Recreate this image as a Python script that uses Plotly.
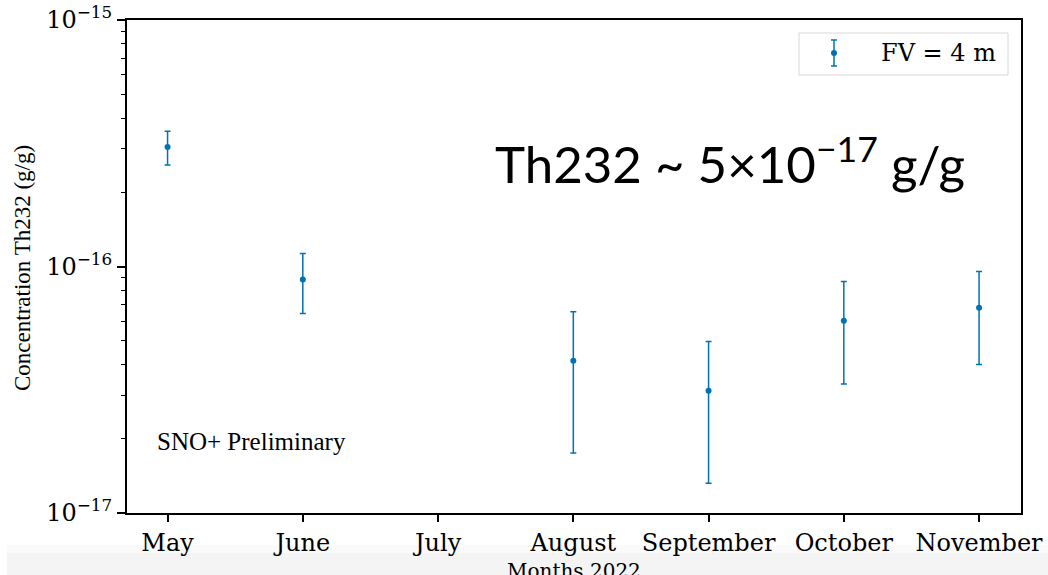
import plotly.graph_objects as go

months = ["May", "June", "July", "August", "September", "October", "November"]
data_months = ["May", "June", "August", "September", "October", "November"]
conc = [3.05e-16, 8.85e-17, 4.15e-17, 3.13e-17, 6.03e-17, 6.81e-17]
err_up = [3.54e-16, 1.13e-16, 6.56e-17, 4.96e-17, 8.69e-17, 9.55e-17]
err_lo = [2.58e-16, 6.44e-17, 1.75e-17, 1.32e-17, 3.34e-17, 4.00e-17]
series_name = "FV = 4 m"

y_tickvals = [1e-17, 1e-16, 1e-15]
y_ticktext = ["10<sup>−17</sup>", "10<sup>−16</sup>", "10<sup>−15</sup>"]
minor_vals = [m * 10.0 ** e for e in (-17, -16) for m in range(2, 10)]

W, H = 1048, 575
L, R, T, B = 127, 1021, 20, 513
pw, ph = R - L, B - T

def px(x):
    return (x - L) / pw

def py(y):
    return (B - y) / ph

color = "#0173B2"
fig = go.Figure()
fig.add_trace(go.Scatter(
    x=data_months, y=conc, mode="markers", name=series_name,
    showlegend=False,
    marker=dict(color=color, size=6),
    error_y=dict(type="data", symmetric=False,
                 array=[u - c for u, c in zip(err_up, conc)],
                 arrayminus=[c - l for c, l in zip(conc, err_lo)],
                 color=color, thickness=1.5, width=3),
))

# manual legend (box + error-bar glyph + label)
lx, ly = 834, 53
legend_shapes = [
    dict(type="rect", xref="paper", yref="paper",
         x0=px(799), x1=px(1008), y0=py(33), y1=py(75),
         fillcolor="white", line=dict(color="#d8d8d8", width=1), layer="above"),
    dict(type="line", xref="paper", yref="paper",
         x0=px(lx), x1=px(lx), y0=py(ly - 13), y1=py(ly + 13),
         line=dict(color=color, width=1.5), layer="above"),
    dict(type="line", xref="paper", yref="paper",
         x0=px(lx - 3), x1=px(lx + 3), y0=py(ly - 13), y1=py(ly - 13),
         line=dict(color=color, width=1.5), layer="above"),
    dict(type="line", xref="paper", yref="paper",
         x0=px(lx - 3), x1=px(lx + 3), y0=py(ly + 13), y1=py(ly + 13),
         line=dict(color=color, width=1.5), layer="above"),
    dict(type="circle", xref="paper", yref="paper",
         x0=px(lx - 3), x1=px(lx + 3), y0=py(ly - 3), y1=py(ly + 3),
         fillcolor=color, line=dict(color=color, width=0), layer="above"),
]

fig.update_layout(
    width=W, height=H,
    margin=dict(l=L, r=W - R, t=T, b=H - B, autoexpand=False),
    paper_bgcolor="white", plot_bgcolor="white",
    showlegend=False,
    xaxis=dict(type="category", categoryorder="array", categoryarray=months,
               range=[-0.3, 6.31], showgrid=False, zeroline=False,
               showline=True, linecolor="black", linewidth=2, mirror=True,
               automargin=False,
               ticks="outside", ticklen=7, tickwidth=1.5, tickcolor="black",
               tickfont=dict(family="DejaVu Serif", size=24, color="black")),
    yaxis=dict(type="log", range=[-17, -15], showgrid=False, zeroline=False,
               showline=True, linecolor="black", linewidth=2, mirror=True,
               automargin=False,
               tickvals=y_tickvals, ticktext=y_ticktext,
               ticks="outside", ticklen=8, tickwidth=1.5, tickcolor="black",
               tickfont=dict(family="DejaVu Serif", size=24, color="black"),
               minor=dict(tickvals=minor_vals, ticks="outside", ticklen=4,
                          tickwidth=1, tickcolor="black")),
    shapes=[
        dict(type="rect", xref="paper", yref="paper",
             x0=px(7), x1=px(W), y0=py(545), y1=py(553),
             fillcolor="#fafafa", line=dict(width=0), layer="below"),
        dict(type="rect", xref="paper", yref="paper",
             x0=px(7), x1=px(W), y0=py(553), y1=py(H),
             fillcolor="#f4f4f4", line=dict(width=0), layer="below"),
    ] + legend_shapes,
    annotations=[
        dict(text="Concentration Th232 (g/g)", xref="paper", yref="paper",
             x=px(22), y=py(268), xanchor="center", yanchor="middle",
             textangle=-90, showarrow=False,
             font=dict(family="Liberation Serif", size=23, color="black")),
        dict(text=series_name, xref="paper", yref="paper",
             x=px(879), y=py(ly), xanchor="left", yanchor="middle",
             showarrow=False, font=dict(family="DejaVu Serif", size=24, color="black")),
        dict(text="Th232 ~ 5×10<sup>−17</sup> g/g", xref="paper", yref="paper",
             x=px(493), y=py(160), xanchor="left", yanchor="middle",
             showarrow=False, font=dict(family="Lato", size=51, color="black")),
        dict(text="SNO+ Preliminary", xref="paper", yref="paper",
             x=px(155), y=py(441), xanchor="left", yanchor="middle",
             showarrow=False, font=dict(family="Liberation Serif", size=25, color="black")),
        dict(text="Months 2022", xref="paper", yref="paper",
             x=px(574), y=py(557), xanchor="center", yanchor="top",
             showarrow=False, font=dict(family="DejaVu Serif", size=20, color="black")),
    ],
)

fig.write_html("out.html")
